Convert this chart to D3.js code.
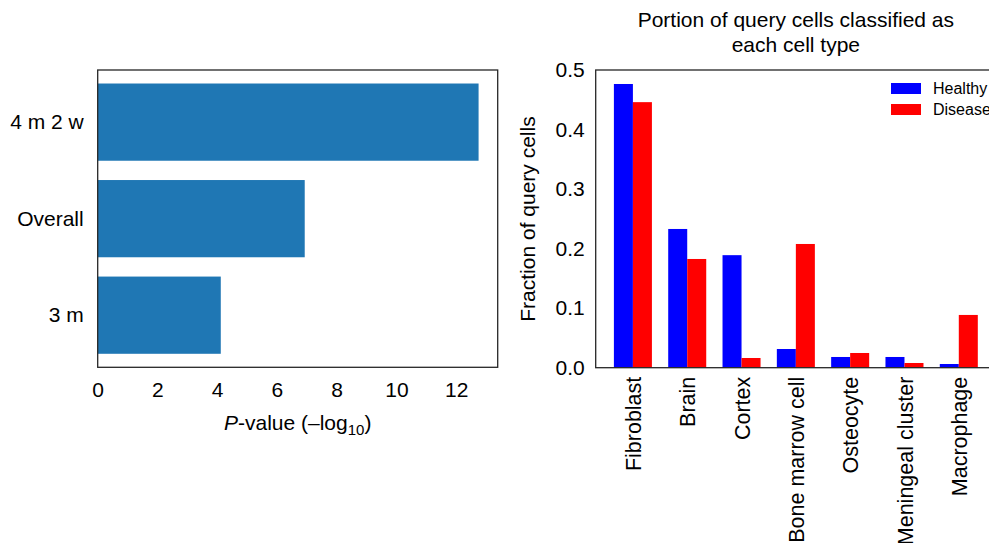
<!DOCTYPE html>
<html>
<head>
<meta charset="utf-8">
<script src="https://cdn.jsdelivr.net/npm/d3@7"></script>
<style>
  body { margin: 0; background: #fff; }
  svg { font-family: "Liberation Sans", Arial, Helvetica, sans-serif; }
  .frame { fill: none; stroke: #262626; stroke-width: 1.3; }
  .axis path, .axis line { display: none; }
  .axis text { font-size: 21px; fill: #000; }
  .xcat text { font-size: 21.5px; }
</style>
</head>
<body>
<svg id="chart" width="989" height="543"></svg>
<script>
// left panel: enrichment p-values
const periods = ["3 m", "Overall", "4 m 2 w"];
const pValues = [4.12, 6.93, 12.75];
const pTicks = [0, 2, 4, 6, 8, 10, 12];

// right panel: fraction of query cells per type
const cellTypes = ["Fibroblast", "Brain", "Cortex", "Bone marrow cell", "Osteocyte", "Meningeal cluster", "Macrophage"];
const healthy = [0.4765, 0.233, 0.189, 0.0314, 0.018, 0.018, 0.0062];
const disease = [0.446, 0.1826, 0.0163, 0.2078, 0.0247, 0.0079, 0.0886];
const fracTicks = [0, 0.1, 0.2, 0.3, 0.4, 0.5];

const svg = d3.select("#chart");

// ---------- left panel ----------
const L = { left: 97.7, right: 497.7, top: 70, bottom: 367.3 };
const xL = d3.scaleLinear().domain([0, 13.39]).range([L.left, L.right]);
const yL = d3.scaleLinear().domain([-0.54, 2.54]).range([L.bottom, L.top]);

const left = svg.append("g");

left.selectAll("rect.bar")
    .data(pValues)
    .enter().append("rect")
    .attr("class", "bar")
    .attr("x", xL(0))
    .attr("y", (d, i) => yL(i + 0.4))
    .attr("width", d => xL(d) - xL(0))
    .attr("height", (d, i) => yL(i - 0.4) - yL(i + 0.4))
    .attr("fill", "#1f77b4");

left.append("g")
    .attr("class", "axis")
    .attr("transform", `translate(0,${L.bottom + 7})`)
    .call(d3.axisBottom(xL).tickValues(pTicks).tickFormat(d3.format("d")).tickSize(0).tickPadding(8));

left.append("g")
    .attr("class", "axis")
    .attr("transform", `translate(${L.left - 14},0)`)
    .call(d3.axisLeft(yL)
        .tickValues(d3.range(periods.length))
        .tickFormat(i => periods[i]).tickSize(0).tickPadding(0));

left.append("rect")
    .attr("class", "frame")
    .attr("x", L.left).attr("y", L.top)
    .attr("width", L.right - L.left).attr("height", L.bottom - L.top);

const xLabel = left.append("text")
    .attr("x", (L.left + L.right) / 2)
    .attr("y", 430)
    .attr("text-anchor", "middle")
    .style("font-size", "21px");
xLabel.append("tspan").style("font-style", "italic").text("P");
xLabel.append("tspan").text("-value (\u2013log");
xLabel.append("tspan").attr("dy", 5).style("font-size", "15px").text("10");
xLabel.append("tspan").attr("dy", -5).text(")");

// ---------- right panel ----------
const R = { left: 595.7, right: 996, top: 70, bottom: 367.7 };
const barW = 0.35;
const xR = d3.scaleLinear().domain([-0.685, 6.685]).range([R.left, R.right]);
const yR = d3.scaleLinear().domain([0, 0.5]).range([R.bottom, R.top]);

const right = svg.append("g");

right.selectAll("rect.healthy")
    .data(healthy)
    .enter().append("rect")
    .attr("class", "healthy")
    .attr("x", (d, i) => xR(i - barW))
    .attr("y", d => yR(d))
    .attr("width", xR(barW) - xR(0))
    .attr("height", d => yR(0) - yR(d))
    .attr("fill", "#0000ff");

right.selectAll("rect.disease")
    .data(disease)
    .enter().append("rect")
    .attr("class", "disease")
    .attr("x", (d, i) => xR(i))
    .attr("y", d => yR(d))
    .attr("width", xR(barW) - xR(0))
    .attr("height", d => yR(0) - yR(d))
    .attr("fill", "#ff0000");

right.append("g")
    .attr("class", "axis")
    .attr("transform", `translate(${R.left - 11},0)`)
    .call(d3.axisLeft(yR).tickValues(fracTicks).tickFormat(d3.format(".1f")).tickSize(0).tickPadding(0));

const xAx = right.append("g")
    .attr("class", "axis xcat")
    .attr("transform", `translate(0,${R.bottom + 9})`)
    .call(d3.axisBottom(xR).tickValues(d3.range(cellTypes.length))
        .tickFormat(i => cellTypes[i]).tickSize(0).tickPadding(0));
xAx.selectAll(".tick text")
    .attr("transform", "rotate(-90)")
    .attr("text-anchor", "end")
    .attr("x", 0).attr("y", 0)
    .attr("dy", "0.35em");

right.append("rect")
    .attr("class", "frame")
    .attr("x", R.left).attr("y", R.top)
    .attr("width", R.right - R.left).attr("height", R.bottom - R.top);

right.append("text")
    .attr("x", 528)
    .attr("y", 219)
    .attr("transform", "rotate(-90, 528, 219)")
    .attr("dy", "0.35em")
    .attr("text-anchor", "middle")
    .style("font-size", "21px")
    .text("Fraction of query cells");

const title = right.append("text")
    .attr("text-anchor", "middle")
    .style("font-size", "21px");
title.append("tspan").attr("x", (R.left + R.right) / 2).attr("y", 27).text("Portion of query cells classified as");
title.append("tspan").attr("x", (R.left + R.right) / 2).attr("y", 52).text("each cell type");

// legend
const legend = right.append("g").attr("transform", "translate(891,83)");
const series = [{ name: "Healthy", color: "#0000ff" }, { name: "Disease", color: "#ff0000" }];
const item = legend.selectAll("g")
    .data(series)
    .enter().append("g")
    .attr("transform", (d, i) => `translate(0,${i * 21})`);
item.append("rect").attr("width", 30).attr("height", 11).attr("fill", d => d.color);
item.append("text")
    .attr("x", 42).attr("y", 5.5).attr("dy", "0.35em")
    .style("font-size", "16px")
    .text(d => d.name);
</script>
</body>
</html>
